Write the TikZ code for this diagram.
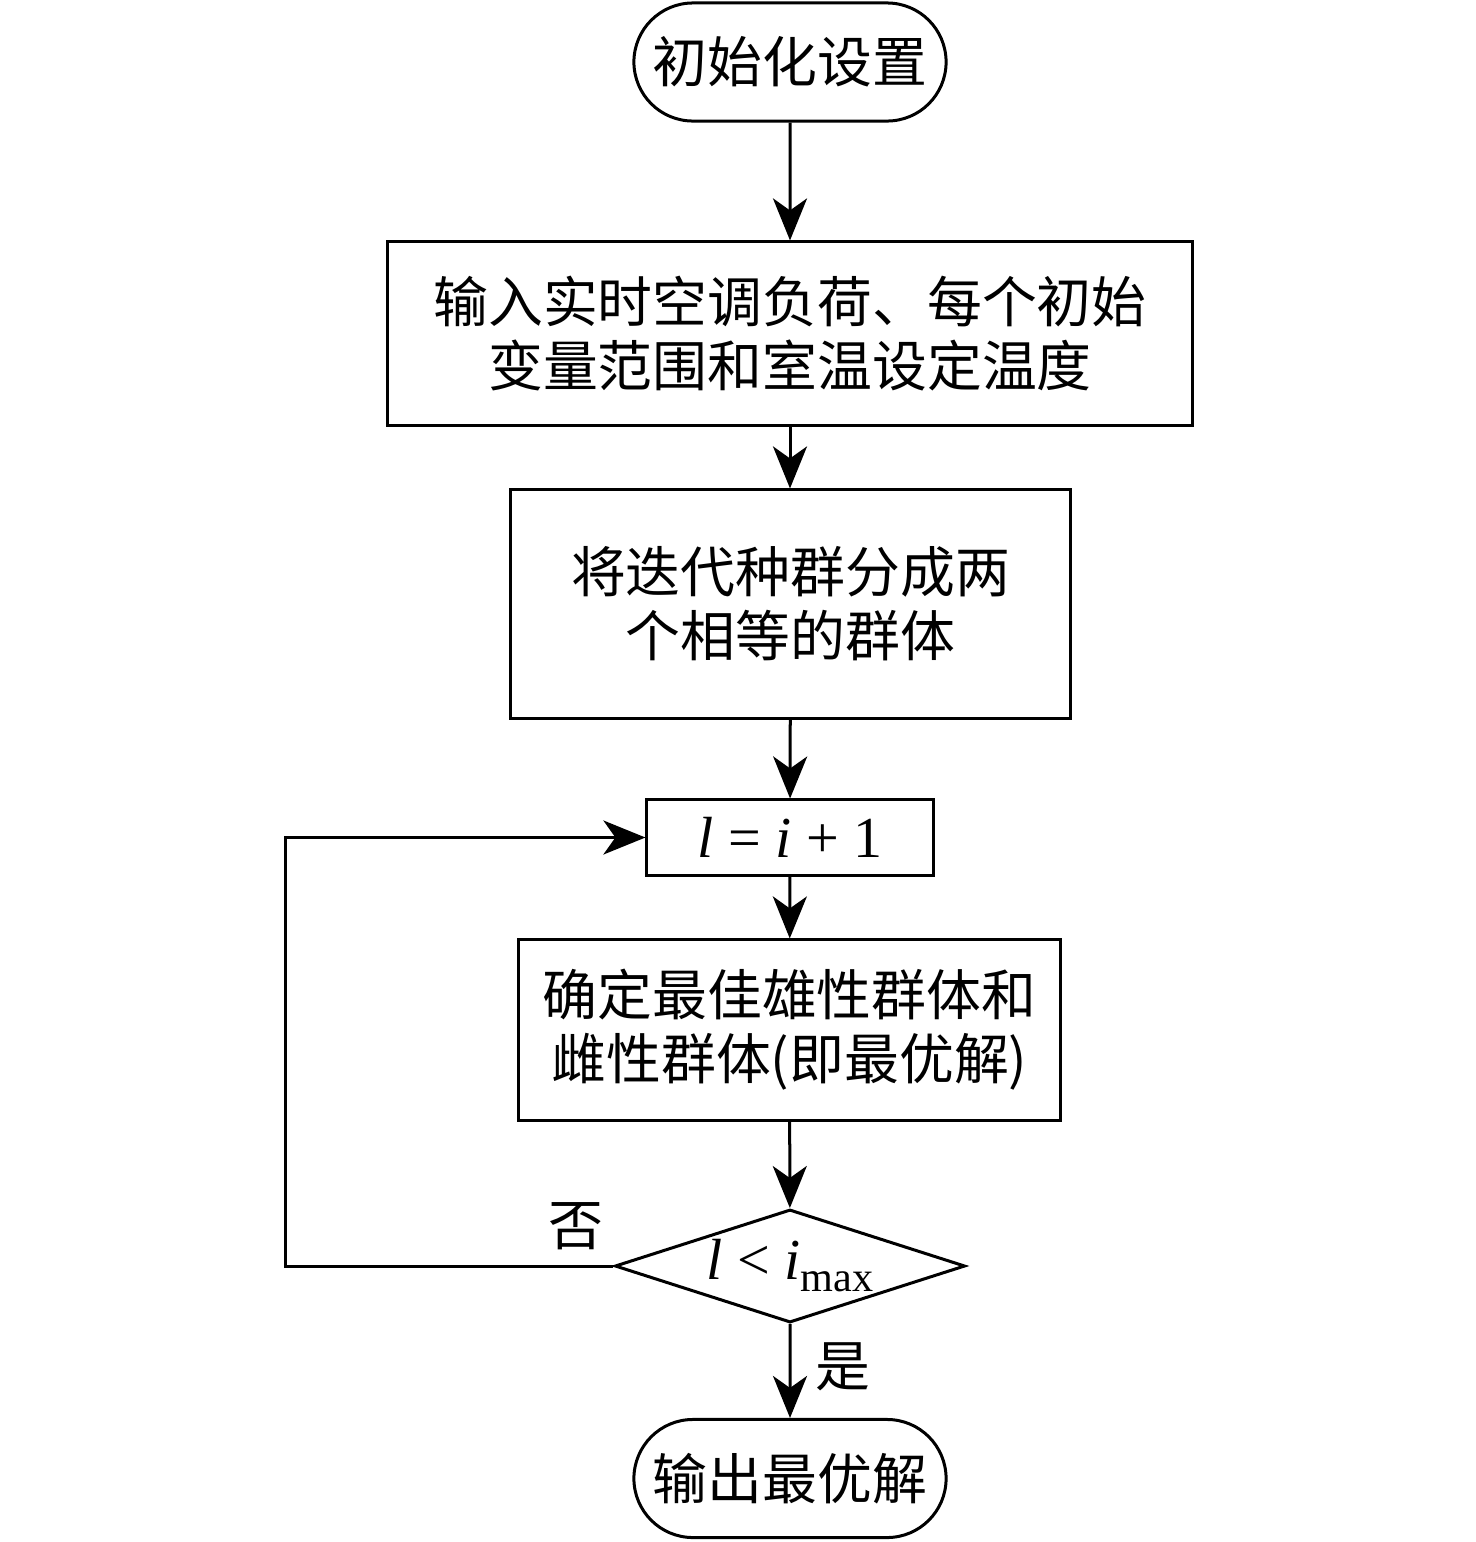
\documentclass[tikz,border=0pt]{standalone}
\usepackage{fontspec}
\setmainfont{Liberation Serif}
\newfontfamily\cjk{Noto Sans CJK SC}
\usetikzlibrary{shapes.misc,shapes.geometric,arrows.meta}
\begin{document}
\begin{tikzpicture}[x=0.01cm,y=-0.01cm,
  line width=0.03cm,
  every node/.style={font=\fontsize{15.6}{18.2}\selectfont},
  term/.style={draw,rounded rectangle,minimum width=3.12cm,minimum height=1.18cm,inner sep=0pt},
  procbox/.style={draw,rectangle,align=center,inner sep=0pt},
  decis/.style={draw,diamond,minimum width=3.5cm,minimum height=1.13cm,inner sep=0pt,aspect=3.1},
  arr/.style={-{Stealth[length=0.42cm,width=0.34cm,inset=0.12cm]}},
  lbl/.style={font=\fontsize{15.6}{18.2}\selectfont\cjk}
]
\useasboundingbox (0,0) rectangle (1476,1542);
\node[term] (start) at (790,62) {\cjk 初始化设置};
\node[procbox,minimum width=8.04cm,minimum height=1.83cm] (b1) at (790,333.5)
  {\cjk 输入实时空调负荷、每个初始\\\cjk 变量范围和室温设定温度};
\node[procbox,minimum width=5.59cm,minimum height=2.28cm] (b2) at (790.5,604)
  {\cjk 将迭代种群分成两\\\cjk 个相等的群体};
\node[procbox,minimum width=2.86cm,minimum height=0.75cm,font=\fontsize{16.5}{19}\selectfont] (b3) at (790,837.5)
  {\textit{l} = \textit{i} + 1};
\node[procbox,minimum width=5.41cm,minimum height=1.80cm] (b4) at (789.5,1030)
  {\cjk 确定最佳雄性群体和\\\cjk 雌性群体(即最优解)};
\node[decis,font=\fontsize{16.5}{19}\selectfont] (dia) at (790,1266)
  {\textit{l} < \textit{i}\raisebox{-0.45ex}{\fontsize{12}{12}\selectfont max}};
\node[term] (end) at (790,1478.5) {\cjk 输出最优解};
\coordinate (lp) at (285,1266);
\draw[arr] (start) -- (b1);
\draw[arr] (b1) -- (b2.north -| b1.south);
\draw[arr] (b2) -- (b3);
\draw[arr] (b3) -- (b4);
\draw[arr] (b4) -- (dia);
\draw[arr] (dia) -- (end);
\draw[arr] (dia.west) -- (lp) |- (b3.west);
\node[lbl] (no) at (576,1226) {否};
\node[lbl] (yes) at (843,1367) {是};
\end{tikzpicture}
\end{document}
